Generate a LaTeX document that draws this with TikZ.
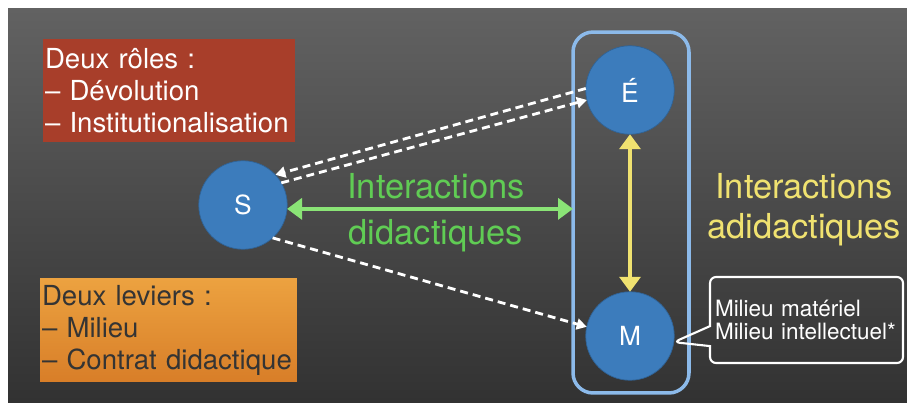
\documentclass[tikz,border=0pt]{standalone}
\usepackage{fontspec}
\setmainfont{TeX Gyre Heros}
\usetikzlibrary{arrows.meta,shapes.callouts}
\definecolor{bgtop}{RGB}{98,98,98}
\definecolor{bgbot}{RGB}{50,50,50}
\definecolor{rolered}{RGB}{168,62,42}
\definecolor{levtop}{RGB}{236,162,64}
\definecolor{levbot}{RGB}{216,126,40}
\definecolor{agentblue}{RGB}{60,124,188}
\definecolor{framebl}{RGB}{140,186,234}
\definecolor{didgreen}{RGB}{96,204,84}
\definecolor{arrgreen}{RGB}{138,228,118}
\definecolor{adiyel}{RGB}{240,226,112}
\definecolor{darktxt}{RGB}{52,52,52}
\begin{document}
\begin{tikzpicture}[x=0.02cm,y=-0.02cm,every node/.style={font=\fontsize{15.7}{18.2}\selectfont},
  agent/.style={circle,fill=agentblue,draw=agentblue!80!black,thin,minimum size=1.77cm,inner sep=0pt,outer sep=0pt,text=white,font=\fontsize{15}{18}\selectfont},
  devol/.style={draw=white,line width=1.6pt,dash pattern=on 0.16cm off 0.1cm,-{Triangle[width=0.22cm,length=0.2cm]}},
  didarrow/.style={draw=arrgreen,line width=2.3pt,{Triangle[width=0.42cm,length=0.3cm]}-{Triangle[width=0.42cm,length=0.3cm]}},
  adiarrow/.style={draw=adiyel,line width=2.1pt,{Triangle[width=0.42cm,length=0.3cm]}-{Triangle[width=0.42cm,length=0.3cm]}}]
\useasboundingbox (0,0) rectangle (907,403);
\fill[white] (0,0) rectangle (907,403);
\shade[top color=bgtop,bottom color=bgbot] (8,8) rectangle (907,402);
% boxes on the left
\node[fill=rolered,text=white,align=left,text width=4.96cm,inner xsep=0.04cm,minimum height=2.06cm] (roles) at (169,90.5) {Deux rôles :\\– Dévolution\\– Institutionalisation};
\node[top color=levtop,bottom color=levbot,text=darktxt,align=left,text width=5.06cm,inner xsep=0.04cm,minimum height=2.08cm] (leviers) at (168.5,330) {Deux leviers :\\– Milieu\\– Contrat didactique};
% agents
\node[draw=framebl,line width=2pt,rounded corners=0.4cm,minimum width=2.32cm,minimum height=7.22cm,outer sep=0pt] (cadre) at (631,212.5) {};
\node[agent] (S) at (243,205) {S};
\node[agent] (E) at (630,90) {É};
\node[agent] (M) at (630,336) {M};
\draw[devol] (E.178) -- (S.43);
\draw[devol] (S.30) -- (E.193);
\draw[devol] (S.-48) -- (M.168);
\draw[didarrow] (S.-5) -- (S.-5 -| cadre.west);
\draw[adiarrow] (E) -- (M);
\node[font=\fontsize{19.6}{26.1}\selectfont,text=didgreen,align=center,anchor=north,inner sep=0pt] (didac) at (436,173) {Interactions\\didactiques};
\node[font=\fontsize{19.6}{22.7}\selectfont,text=adiyel,align=center,anchor=north,inner sep=0pt] (adidac) at (804,173) {Interactions\\adidactiques};
\node[rectangle callout,draw=white,line width=1.2pt,rounded corners=0.12cm,callout absolute pointer={(M.-8)},callout pointer width=0.4cm,text=white,font=\fontsize{12.8}{13.6}\selectfont,align=left,text width=3.66cm,inner xsep=0.1cm,minimum height=1.72cm] (milieu) at (806.5,320) {Milieu matériel\\Milieu intellectuel*};
\end{tikzpicture}
\end{document}
